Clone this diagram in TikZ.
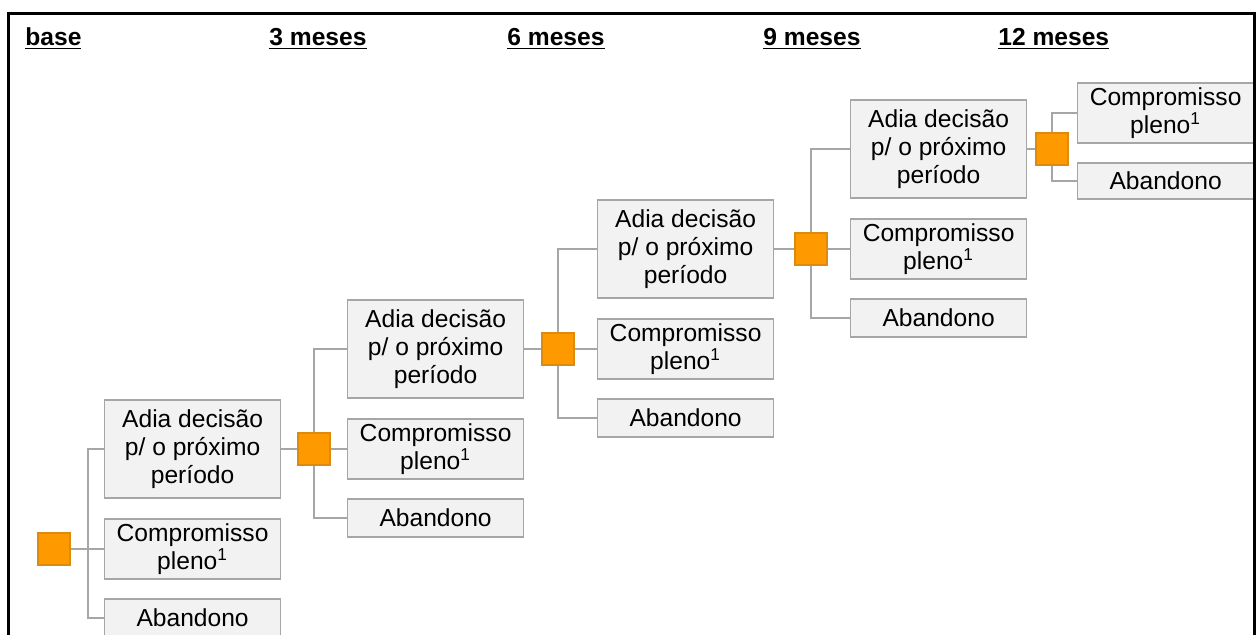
\documentclass[tikz,border=0pt]{standalone}
\usepackage{fontspec}
\setmainfont{Liberation Sans}
\usepackage{tikz}
\definecolor{caixa}{HTML}{F2F2F2}
\definecolor{borda}{HTML}{A6A6A6}
\definecolor{laranja}{HTML}{FF9900}
\definecolor{laranjaesc}{HTML}{DC8A10}

\begin{document}
\begin{tikzpicture}[x=0.5pt,y=-0.5pt,inner sep=0pt,
    font=\fontsize{12.3}{14}\selectfont,
    opcao/.style={draw=borda,fill=caixa,line width=0.6pt,anchor=west,
      minimum width=88pt,align=center},
    decisao/.style={draw=laranjaesc,fill=laranja,line width=0.6pt,
      minimum size=16pt},
    ligacao/.style={draw=borda,line width=0.6pt},
    titulo/.style={anchor=base west,font=\fontsize{12.3}{14}\selectfont\bfseries},
    moldura/.style={draw=black,line width=1.5pt}]

      % area da figura
      \useasboundingbox (0,0) rectangle (1256,634);
      \clip (0,0) rectangle (1256,634);

      % grade para conferir coordenadas
      %\draw[step=50,lightgray] (0,0) grid (1256,634);

      % periodos
      \node[titulo] (t0) at (25,45) {\underline{base}};
      \node[titulo] (t1) at (269,45) {\underline{3 meses}};
      \node[titulo] (t2) at (507,45) {\underline{6 meses}};
      \node[titulo] (t3) at (763,45) {\underline{9 meses}};
      \node[titulo] (t4) at (998,45) {\underline{12 meses}};

      % etapas com tres opcoes
      \foreach \k/\sx/\sy/\bx/\jx in {0/54/549/104/88, 1/314/449/347/314,
          2/558/349/597/558, 3/811/249/850/811}{
        \coordinate (p\k) at (\sx,\sy);
        \coordinate (j\k) at (\jx,\sy);
        \node[opcao,minimum height=49pt] (a\k) at (\bx,\sy-100){%
          Adia decisão\\p/ o próximo\\período};
        \node[opcao,minimum height=30pt] (c\k) at (\bx,\sy){%
          Compromisso\\pleno\textsuperscript{1}};
        \node[opcao,minimum height=19pt] (ab\k) at (\bx,\sy+69){%
          Abandono};
        \draw[ligacao] (p\k) -- (c\k.west);
        \draw[ligacao] (a\k.west) -| (j\k) |- (ab\k.west);
        \node[decisao] (sq\k) at (p\k){};
      }

      % ultima etapa
      \coordinate (p4) at (1052,149);
      \node[opcao,minimum height=30pt] (c4) at (1077,113){%
        Compromisso\\pleno\textsuperscript{1}};
      \node[opcao,minimum height=18pt] (ab4) at (1077,181){%
        Abandono};
      \draw[ligacao] (c4.west) -| (p4) |- (ab4.west);
      \node[decisao] (sq4) at (p4){};

      % ligacoes entre etapas
      \foreach \k/\n in {0/1,1/2,2/3,3/4}
        \draw[ligacao] (a\k.east) -- (sq\n.west);

      % moldura
      \draw[moldura] (8,700) |- (1254,13) -- (1254,700);
    \end{tikzpicture}
\end{document}
